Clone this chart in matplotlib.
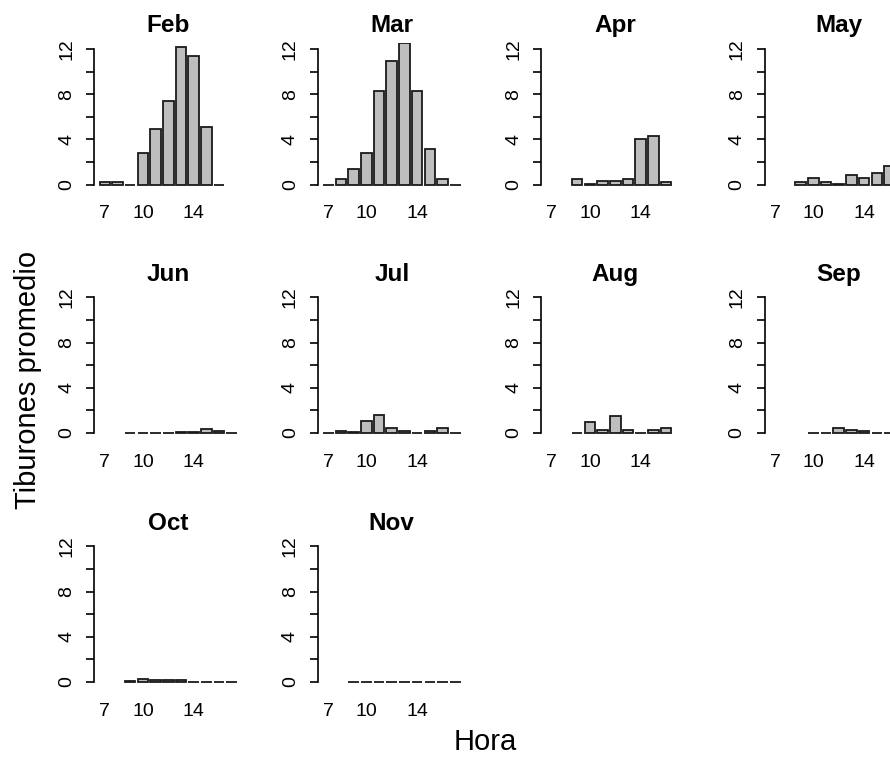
"""
Tiburones promedio por hora, un panel por mes (estilo barplot de R).
"""

import numpy as np
import matplotlib
matplotlib.use("Agg")
import matplotlib.pyplot as plt

# ==========================================
# DATA (NaN = hour without observations, no bar drawn)
# ==========================================
NA = np.nan
hours = [7, 8, 9, 10, 11, 12, 13, 14, 15, 16, 17]
months = ["Feb", "Mar", "Apr", "May", "Jun", "Jul", "Aug", "Sep", "Oct", "Nov"]

feb = [0.2, 0.2, 0, 2.8, 4.9, 7.4, 12.2, 11.4, 5.1, 0, NA]
mar = [0, 0.5, 1.4, 2.8, 8.3, 10.9, 12.5, 8.3, 3.1, 0.5, 0]
apr = [NA, NA, 0.45, 0.05, 0.3, 0.3, 0.5, 4.0, 4.3, 0.2, NA]
may = [NA, NA, 0.25, 0.55, 0.25, 0.05, 0.85, 0.55, 1.0, 1.65, 0]
jun = [NA, NA, 0, 0, 0, 0, 0.05, 0.05, 0.33, 0.21, 0]
jul = [0, 0.2, 0.05, 1.1, 1.55, 0.45, 0.2, 0, 0.2, 0.45, 0]
aug = [NA, NA, 0, 1.0, 0.25, 1.5, 0.25, 0, 0.25, 0.45, NA]
sep = [NA, NA, NA, 0, 0, 0.45, 0.3, 0.2, 0, 0, 0]
oct_ = [NA, NA, 0.05, 0.25, 0.15, 0.15, 0.15, 0, 0, 0, 0]
nov = [NA, NA, 0, 0, 0, 0, 0, 0, 0, 0, 0]
series = [feb, mar, apr, may, jun, jul, aug, sep, oct_, nov]

label_hours = [7, 10, 14]
y_ticks = [0, 2, 4, 6, 8, 10, 12]
y_labels = ["0", "", "4", "", "8", "", "12"]

# ==========================================
# CONFIGURATION
# ==========================================
W, H, DPI = 890, 759, 100
BAR_FILL = "#BEBEBE"
BAR_EDGE = "#1a1a1a"
FONT = "Liberation Sans"

plt.rcParams["font.family"] = [FONT, "DejaVu Sans"]

# barplot geometry: width 1, space 0.2 -> centres at 0.7, 1.9, ...
centres = 0.7 + 1.2 * np.arange(len(hours))
XLIM = (-0.32, 13.72)
YLIM = (-0.48, 12.48)

# panel placement in pixels
COL_LEFT = [94, 317.5, 541, 764.5]
ROW_ZERO = [184.5, 433, 682]
PX_X = 10.58
PX_Y = 11.3


def panel_axes(fig, row, col):
    left = COL_LEFT[col]
    width = (XLIM[1] - XLIM[0]) * PX_X
    bottom_px = ROW_ZERO[row] - YLIM[0] * PX_Y
    height = (YLIM[1] - YLIM[0]) * PX_Y
    return fig.add_axes([left / W, (H - bottom_px) / H, width / W, height / H])


def main():
    fig = plt.figure(figsize=(W / DPI, H / DPI), dpi=DPI)

    for i, (month, vals) in enumerate(zip(months, series)):
        row, col = divmod(i, 4)
        ax = panel_axes(fig, row, col)
        vals = np.array(vals, dtype=float)
        ok = ~np.isnan(vals)
        ax.bar(centres[ok], vals[ok], width=1.0, color=BAR_FILL,
               edgecolor=BAR_EDGE, linewidth=1.3)

        ax.set_xlim(*XLIM)
        ax.set_ylim(*YLIM)
        for s in ["top", "right", "bottom"]:
            ax.spines[s].set_visible(False)
        ax.spines["left"].set_bounds(0, 12)
        ax.spines["left"].set_linewidth(1.2)

        ax.set_yticks(y_ticks)
        ax.set_yticklabels(y_labels, rotation=90, va="center", fontsize=14)
        ax.tick_params(axis="y", length=5.5, width=1.2, pad=8)

        pos = [centres[hours.index(h)] for h in label_hours]
        ax.set_xticks(pos)
        ax.set_xticklabels([str(h) for h in label_hours], fontsize=14)
        ax.tick_params(axis="x", length=0, pad=11)

        ax.set_title(month, fontsize=17.5, fontweight="bold", pad=8)
        ax.patch.set_visible(False)

    fig.text(485 / W, 1 - 742 / H, "Hora", fontsize=21,
             ha="center", va="center")
    fig.text(28 / W, 1 - 380 / H, "Tiburones promedio", fontsize=21,
             ha="center", va="center", rotation=90)

    fig.savefig("out.png", dpi=DPI)
    plt.close(fig)


if __name__ == "__main__":
    main()
